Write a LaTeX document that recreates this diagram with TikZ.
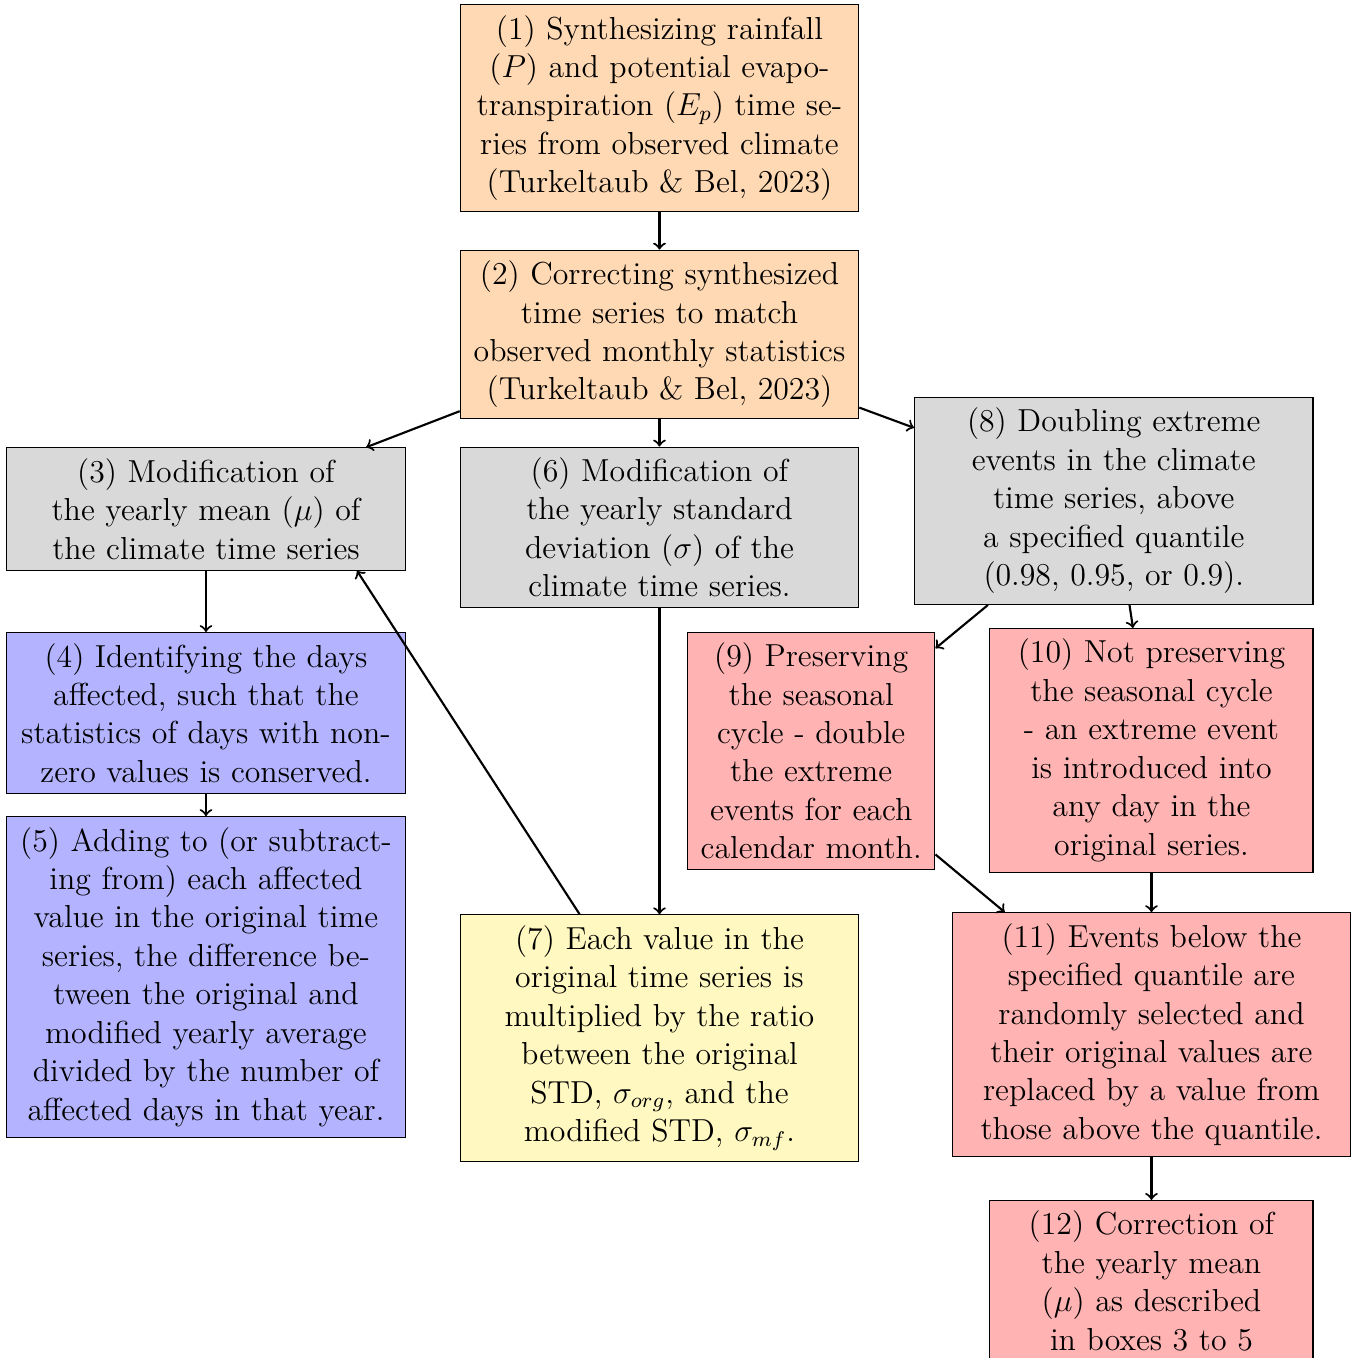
\documentclass[tikz,border=0pt,12pt]{standalone}
\usepackage{tikz}
\definecolor{O}{RGB}{255,217,179}
\definecolor{G}{RGB}{217,217,217}
\definecolor{B}{RGB}{179,179,255}
\definecolor{R}{RGB}{255,179,179}
\definecolor{Y}{RGB}{255,248,192}
\tikzset{
  block/.style={draw, align=center, text width=5cm},
  arr/.style={->, thick}
}

\begin{document}
\begin{tikzpicture}
\useasboundingbox (-8.74,1.431) rectangle (9.31,-16.565);
% synthesis
\node[block, fill=O] (b1) at (0,0) {(1) Synthesizing rainfall\\ ($P$) and potential evapo-\\transpiration ($E_p$) time se-\\ries from observed climate\\ (Turkeltaub \& Bel, 2023)};
\node[block, fill=O] (b2) at (0,-3) {(2) Correcting synthesized\\ time series to match\\ observed monthly statistics\\ (Turkeltaub \& Bel, 2023)};
% mean
\node[block, fill=G] (b3) at (-6.01,-5.314) {(3) Modification of\\ the yearly mean ($\mu$) of\\ the climate time series};
\node[block, fill=B] (b4) at (-6.01,-8.017) {(4) Identifying the days\\ affected, such that the\\ statistics of days with non-\\zero values is conserved.};
\node[block, fill=B] (b5) at (-6.01,-11.516) {(5) Adding to (or subtract-\\ing from) each affected\\ value in the original time\\ series, the difference be-\\tween the original and\\ modified yearly average\\ divided by the number of\\ affected days in that year.};
% std
\node[block, fill=G] (b6) at (0,-5.559) {(6) Modification of\\ the yearly standard\\ deviation ($\sigma$) of the\\ climate time series.};
\node[block, fill=Y] (b7) at (0,-12.324) {(7) Each value in the\\ original time series is\\ multiplied by the ratio\\ between the original\\ STD, $\sigma_{org}$, and the\\ modified STD, $\sigma_{mf}$.};
% extremes
\node[block, fill=G] (b8) at (6.02,-5.208) {(8) Doubling extreme\\ events in the climate\\ time series, above\\ a specified quantile\\ (0.98, 0.95, or 0.9).};
\node[block, fill=R, text width=3cm] (b9) at (2.01,-8.521) {(9) Preserving\\ the seasonal\\ cycle - double\\ the extreme\\ events for each\\ calendar month.};
\node[block, fill=R, text width=4cm] (b10) at (6.52,-8.514) {(10) Not preserving\\ the seasonal cycle\\ - an extreme event\\ is introduced into\\ any day in the\\ original series.};
\node[block, fill=R] (b11) at (6.52,-12.278) {(11) Events below the\\ specified quantile are\\ randomly selected and\\ their original values are\\ replaced by a value from\\ those above the quantile.};
\node[block, fill=R, text width=4cm, anchor=north] (b12) at (6.52,-14.471) {(12) Correction of\\ the yearly mean\\ ($\mu$) as described\\ in boxes 3 to 5};

\draw[arr] (b1) -- (b2);
\draw[arr] (b2) -- (b3);
\draw[arr] (b2) -- (b6);
\draw[arr] (b2) -- (b8);
\draw[arr] (b3) -- (b4);
\draw[arr] (b4) -- (b5);
\draw[arr] (b6) -- (b7);
\draw[arr] (b7) -- ([xshift=2cm]b3.south);
\draw[arr] (b8) -- (b9);
\draw[arr] (b8) -- (b10);
\draw[arr] (b9) -- (b11);
\draw[arr] (b10) -- (b11);
\draw[arr] (b11) -- (b12);
\end{tikzpicture}
\end{document}
